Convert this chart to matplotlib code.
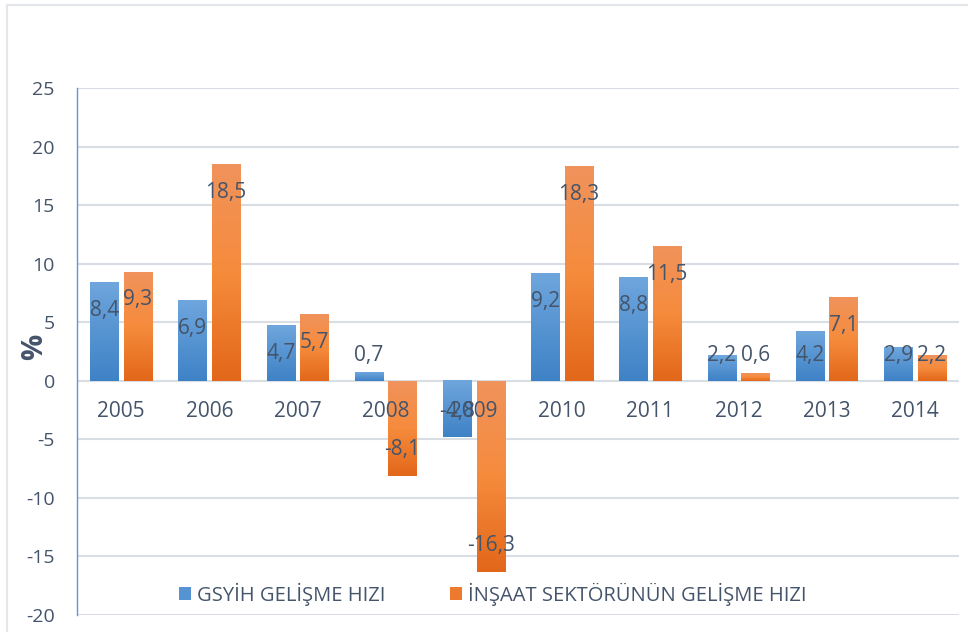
import matplotlib.pyplot as plt
import numpy as np
from matplotlib.colors import LinearSegmentedColormap
from matplotlib.patches import Rectangle

years = ['2005', '2006', '2007', '2008', '2009', '2010', '2011', '2012', '2013', '2014']
gsyih = [8.4, 6.9, 4.7, 0.7, -4.8, 9.2, 8.8, 2.2, 4.2, 2.9]
insaat = [9.3, 18.5, 5.7, -8.1, -16.3, 18.3, 11.5, 0.6, 7.1, 2.2]
series_names = ['GSYİH GELİŞME HIZI', 'İNŞAAT SEKTÖRÜNÜN GELİŞME HIZI']
y_ticks = [25, 20, 15, 10, 5, 0, -5, -10, -15, -20]

text_col = '#44546A'
grid_col = '#D9DEE5'
plt.rcParams['font.family'] = ['Open Sans', 'DejaVu Sans']

fig = plt.figure(figsize=(9.68, 6.32), dpi=100)
# light outer frame like the original document
fig.patches.append(Rectangle((7 / 968, -0.1), 2, 1 - 5 / 632 + 0.1, transform=fig.transFigure,
                             fill=False, edgecolor='#E3E7EC', linewidth=1.5))
ax = fig.add_axes([77 / 968, 1 - 615 / 632, 882 / 968, 527 / 632])

x = np.arange(len(years))
w = 0.32
off = 0.19

blue_cmap = LinearSegmentedColormap.from_list('b', ['#3E82C6', '#6FA6DD'])
orange_cmap = LinearSegmentedColormap.from_list('o', ['#E2671A', '#F68B3C', '#F0935C'])


def grad_bars(xs, vals, cmap):
    bars = ax.bar(xs, vals, width=w, color='none', edgecolor='none', zorder=3)
    grad = np.linspace(0, 1, 256).reshape(-1, 1)
    for b in bars:
        x0, y0 = b.get_x(), b.get_y()
        bw, bh = b.get_width(), b.get_height()
        lo, hi = min(y0, y0 + bh), max(y0, y0 + bh)
        ax.imshow(grad, cmap=cmap, aspect='auto', origin='lower',
                  extent=(x0, x0 + bw, lo, hi), zorder=3)
    return bars


grad_bars(x - off, gsyih, blue_cmap)
grad_bars(x + off, insaat, orange_cmap)


def label_pos(v):
    if v >= 0:
        return max(v - 2.4, 2.2)
    return min(v + 2.2, -2.5)


for xs, vals in ((x - off, gsyih), (x + off, insaat)):
    for xi, v in zip(xs, vals):
        ax.text(xi, label_pos(v), f'{v:.1f}'.replace('.', ','), ha='center', va='center',
                fontsize=15, color=text_col, zorder=5)

for xi, yr in zip(x, years):
    ax.text(xi, -2.6, yr, ha='center', va='center', fontsize=15, color=text_col, zorder=4)

ax.set_xlim(-0.5, len(years) - 0.5)
ax.set_ylim(-20, 25)
ax.set_yticks(y_ticks)
ax.set_yticklabels([str(t) for t in y_ticks], fontsize=14, color=text_col)
ax.set_xticks([])
ax.tick_params(axis='y', length=0, pad=16)
ax.grid(axis='y', color=grid_col, linewidth=1.5, zorder=0)
ax.set_axisbelow(True)
for s in ['top', 'right', 'bottom']:
    ax.spines[s].set_visible(False)
ax.spines['left'].set_color('#5B9BD5')
ax.spines['left'].set_linewidth(1)

fig.text(35 / 968, 1 - 347 / 632, '%', rotation=90, ha='center', va='center',
         fontsize=21, fontweight='bold', color=text_col)

handles = [Rectangle((0, 0), 1, 1, facecolor='#5593D3'), Rectangle((0, 0), 1, 1, facecolor='#EE7A30')]
leg = fig.legend(handles, series_names, loc='center', bbox_to_anchor=(493 / 968, 1 - 594 / 632),
                 ncol=2, frameon=False, fontsize=14.5, handlelength=0.6, handleheight=0.6,
                 handletextpad=0.3, columnspacing=3.2)
for t in leg.get_texts():
    t.set_color(text_col)

fig.savefig('out.png', dpi=100, facecolor='white')
